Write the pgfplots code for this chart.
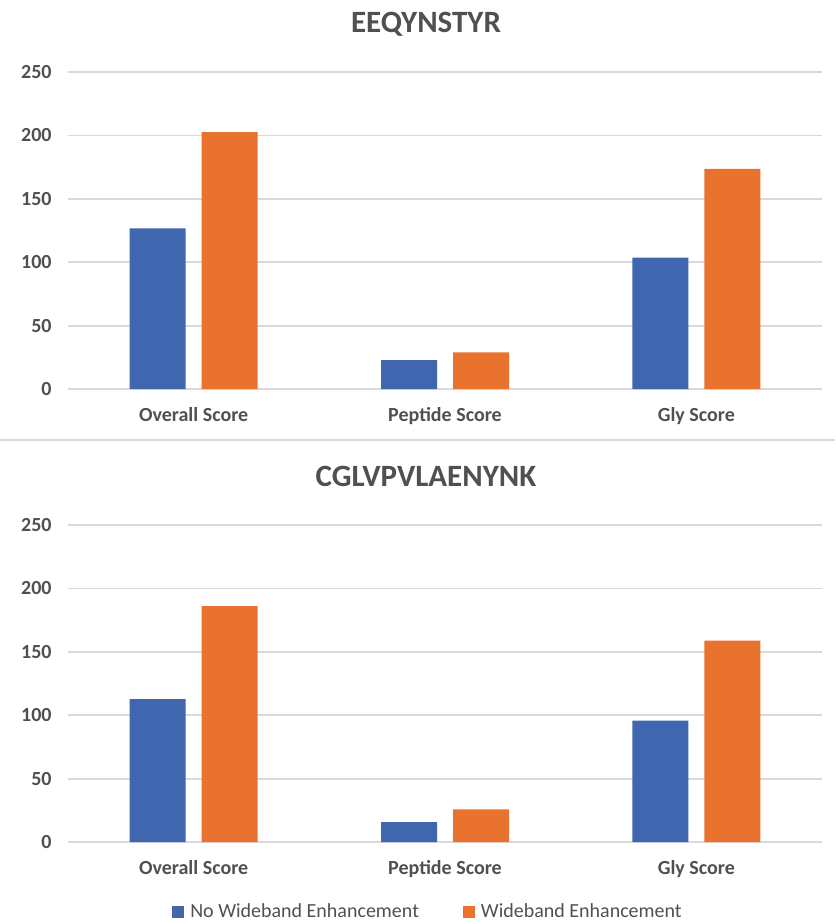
\documentclass[border=0pt]{standalone}
\usepackage{fontspec}
\setmainfont{Carlito}
\usepackage{pgfplots}
\pgfplotsset{compat=1.18}

\definecolor{cblue}{HTML}{4166B0}
\definecolor{corange}{HTML}{E8722E}
\definecolor{ctext}{HTML}{505050}
\definecolor{cgrid}{HTML}{D9D9D9}

% shared look of both panels (1 px of the reference = 0.5pt)
\pgfplotsset{scorestyle/.style={
    scale only axis, width=377pt, height=158.5pt,
    ybar=8pt, bar width=28pt,
    xmin=-0.5, xmax=2.5, ymin=0, ymax=250, ytick={0,50,...,250},
    xtick={0,1,2}, xticklabels={Overall Score, Peptide Score, Gly Score},
    axis line style={draw=none}, major tick length=0pt,
    ymajorgrids, grid style={cgrid, line width=0.9pt},
    tick label style={font=\fontsize{10}{12}\selectfont\bfseries, text=ctext},
    yticklabel style={anchor=east, inner sep=0pt, xshift=-8pt},
    xticklabel style={anchor=north, inner sep=0pt, yshift=-9pt},
    /pgf/number format/assume math mode=true,
    title style={font=\fontsize{15.5}{18}\selectfont\bfseries, text=ctext,
        at={(0.5,1)}, anchor=base, yshift=13.5pt, xshift=-9.5pt},
}}

\begin{document}
\begin{tikzpicture}
\useasboundingbox (0pt,0pt) rectangle (417.5pt,-462pt);

% top panel
\begin{axis}[scorestyle, at={(34pt,-194.5pt)}, anchor=south west, title={EEQYNSTYR}]
    \addplot[fill=cblue, draw=none] coordinates {(0,126.6) (1,22.8) (2,103.7)};
    \addplot[fill=corange, draw=none] coordinates {(0,202.5) (1,28.9) (2,173.6)};
\end{axis}

\draw[cgrid, line width=0.9pt] (0pt,-220pt) -- (417.5pt,-220pt);

% bottom panel with legend
\begin{axis}[scorestyle, at={(34pt,-421pt)}, anchor=south west, title={CGLVPVLAENYNK},
    legend columns=2,
    legend image code/.code={\fill[#1] (0pt,-3pt) rectangle (6pt,3pt);},
    legend style={at={(0.5,0)}, anchor=center, yshift=-35pt, xshift=-8pt,
        draw=none, fill=none, font=\fontsize{10}{12}\selectfont, text=ctext,
        /tikz/every odd column/.append style={column sep=1pt},
        /tikz/every even column/.append style={column sep=20pt}},
]
    \addplot[fill=cblue, draw=none] coordinates {(0,112.6) (1,15.7) (2,95.8)};
    \addplot[fill=corange, draw=none] coordinates {(0,186) (1,25.7) (2,158.8)};
    \legend{No Wideband Enhancement, Wideband Enhancement}
\end{axis}
\end{tikzpicture}
\end{document}
